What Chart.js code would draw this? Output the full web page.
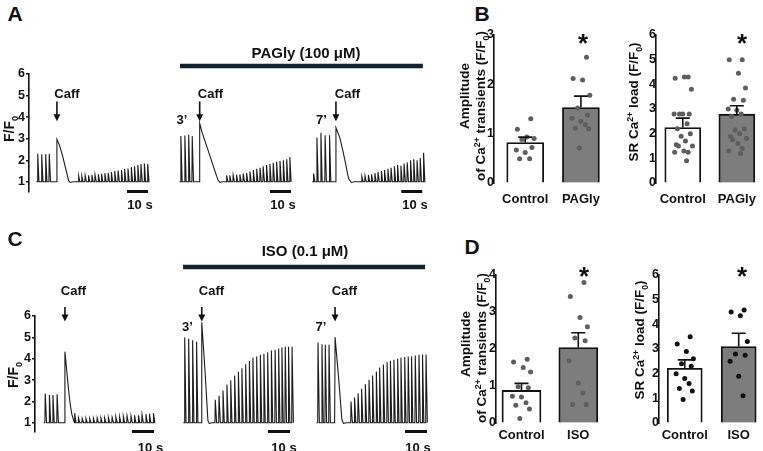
<!DOCTYPE html>
<html>
<head>
<meta charset="utf-8">
<script src="https://cdn.jsdelivr.net/npm/chart.js@4.4.1/dist/chart.umd.min.js"></script>
<style>
body { margin: 0; background: #fff; }
#fig { position: relative; width: 763px; height: 451px; overflow: hidden; font-family: "Liberation Sans", Arial, sans-serif; font-weight: bold; color: #111; }
#fig canvas { position: absolute; }
.t { position: absolute; white-space: nowrap; transform: translate(-50%, -50%); line-height: 1; }
.rot { transform: translate(-50%, -50%) rotate(-90deg); }
sub, sup { font-size: 0.65em; line-height: 0; }
</style>
</head>
<body>
<div id="fig">
  <canvas id="rowA" width="432" height="140" style="left:0px;top:60px"></canvas>
  <canvas id="rowC" width="432" height="200" style="left:0px;top:240px"></canvas>
  <canvas id="b1" width="175" height="195" style="left:440px;top:25px"></canvas>
  <canvas id="b2" width="153" height="195" style="left:610px;top:25px"></canvas>
  <canvas id="d1" width="175" height="195" style="left:440px;top:265px"></canvas>
  <canvas id="d2" width="153" height="195" style="left:610px;top:265px"></canvas>
</div>
<script>
// ---- traces (time in s, peak in F/F0) ----
const a1Beats = [4.0, 5.9, 7.8, 9.5, 23.5, 25.0, 26.6, 28.2, 29.8, 31.3, 32.9, 34.4, 36.0, 37.6, 39.1, 40.7, 42.3, 43.9, 45.4, 47.0, 48.6, 50.1, 51.7, 53.2, 54.8, 56.4];
const a1Peaks = [2.3, 2.28, 2.28, 2.3, 1.28, 1.28, 1.3, 1.3, 1.32, 1.33, 1.35, 1.37, 1.4, 1.42, 1.45, 1.5, 1.52, 1.55, 1.6, 1.62, 1.68, 1.72, 1.78, 1.82, 1.85, 1.83];
const a1Caff = [[13.1, 1], [13.3, 2.97], [14.5, 2.7], [16, 2.2], [17.5, 1.6], [18.9, 1.05], [19.6, 0.97], [21, 1]];

const a2Beats = [72.2, 74.1, 75.9, 77.6, 94.0, 95.5, 97.1, 98.7, 100.3, 101.9, 103.5, 105.1, 106.7, 108.3, 109.9, 111.4, 113.0, 114.6, 116.2, 117.8, 119.4, 121.0, 122.6, 124.1];
const a2Peaks = [3.12, 3.15, 3.18, 3.12, 1.3, 1.3, 1.32, 1.33, 1.35, 1.38, 1.41, 1.48, 1.55, 1.6, 1.65, 1.72, 1.78, 1.84, 1.88, 1.93, 1.97, 2.0, 2.05, 2.15];
const a2Caff = [[81.1, 1], [81.3, 3.71], [82.4, 3.3], [84.5, 2.69], [86.5, 2.11], [88.5, 1.52], [90, 1.08], [91, 0.97], [92, 1]];

const a3Beats = [135.4, 137.0, 138.9, 140.9, 143.0, 158.4, 159.9, 161.5, 163.0, 164.6, 166.1, 167.7, 169.2, 170.8, 172.3, 173.9, 175.4, 177.0, 178.5, 180.0, 181.6, 183.1, 184.7, 186.2, 187.8];
const a3Peaks = [1.38, 3.05, 3.28, 3.16, 3.16, 1.25, 1.28, 1.32, 1.35, 1.4, 1.45, 1.5, 1.55, 1.6, 1.65, 1.72, 1.78, 1.75, 1.85, 1.9, 2.0, 2.05, 2.0, 2.1, 2.35];
const a3Caff = [[146, 1], [146.2, 3.51], [148, 3.06], [149.5, 2.45], [151.1, 1.69], [152.2, 1.15], [153.5, 0.97], [155, 1]];

const c1Beats = [4.5, 6.4, 8.0, 9.9, 17.9, 19.6, 21.3, 23.0, 24.7, 26.4, 28.1, 29.8, 31.5, 33.2, 34.9, 36.6, 38.3, 40.0, 41.7, 43.5, 45.1, 46.9, 48.5, 50.3, 51.9, 53.7];
const c1Peaks = [2.37, 2.3, 2.3, 2.33, 1.45, 1.22, 1.2, 1.2, 1.2, 1.2, 1.22, 1.22, 1.22, 1.25, 1.25, 1.27, 1.28, 1.3, 1.32, 1.32, 1.35, 1.35, 1.38, 1.4, 1.42, 1.45];
const c1Caff = [[13.4, 1], [13.6, 4.33], [14.4, 3.47], [15.1, 2.71], [15.9, 1.95], [16.7, 1.42], [17.6, 1.1]];

const c2Beats = [67.9, 69.7, 71.5, 73.3, 81.8, 83.5, 85.3, 87.1, 88.8, 90.6, 92.3, 93.9, 95.6, 97.3, 98.9, 100.6, 102.3, 103.9, 105.6, 107.3, 109.0, 110.6, 112.1, 113.6, 115.1, 116.7];
const c2Peaks = [4.99, 4.94, 4.86, 4.79, 2.08, 2.26, 2.51, 2.79, 2.99, 3.21, 3.39, 3.55, 3.74, 3.89, 4.05, 4.10, 4.19, 4.23, 4.30, 4.38, 4.42, 4.48, 4.53, 4.56, 4.56, 4.56];
const c2Caff = [[75.6, 1], [75.8, 5.71], [77.3, 3.4], [78.6, 1.1], [79.2, 0.97], [80.5, 1]];

const c3Beats = [128.5, 130.3, 131.8, 133.5, 143.5, 145.1, 146.7, 148.3, 150.0, 151.7, 153.3, 155.0, 156.5, 158.2, 159.9, 161.4, 163.0, 164.7, 166.2, 167.9, 169.5, 171.0, 172.7, 174.4, 176.0, 177.6];
const c3Peaks = [4.76, 4.68, 4.65, 4.65, 1.99, 2.18, 2.38, 2.59, 2.80, 3.01, 3.21, 3.40, 3.59, 3.73, 3.83, 3.90, 3.95, 4.00, 4.05, 4.08, 4.10, 4.12, 4.15, 4.18, 4.20, 4.20];
const c3Caff = [[136.2, 1], [136.4, 5.01], [138, 3.1], [139.5, 1.15], [140.2, 0.97], [141.5, 1]];

const yTicksTrace = [1, 2, 3, 4, 5, 6];

// ---- bar panels ----
const catsB = ['Control', 'PAGly'];
const catsD = ['Control', 'ISO'];

const b1Mean = [0.82, 1.53], b1Sem = [0.11, 0.23];
const b1Ctl = [1.3, 1.09, 0.93, 0.9, 0.88, 0.72, 0.67, 0.62, 0.49, 0.49];
const b1Pag = [2.55, 2.12, 2.09, 1.78, 1.52, 1.38, 1.31, 1.25, 1.18, 1.11, 1.1, 0.71];

const b2Mean = [2.25, 2.79], b2Sem = [0.38, 0.34];
const b2Ctl = [4.3, 4.25, 4.3, 3.8, 2.8, 2.8, 2.8, 2.8, 2.4, 2.2, 2.0, 1.9, 1.7, 1.55, 1.5, 1.5, 1.3, 1.25, 1.25, 0.9];
const b2Pag = [5.0, 5.0, 4.45, 3.85, 3.4, 3.35, 3.0, 2.95, 2.8, 2.7, 2.2, 2.15, 2.0, 1.9, 1.8, 1.75, 1.6, 1.4, 1.3, 1.2];

const d1Mean = [0.88, 2.04], d1Sem = [0.19, 0.40];
const d1Ctl = [1.72, 1.65, 1.5, 1.38, 0.98, 0.95, 0.72, 0.7, 0.55, 0.48, 0.38, 0.12];
const d1Iso = [3.8, 3.42, 2.85, 2.6, 2.3, 2.22, 1.68, 1.08, 0.81, 0.5, 0.5];

const d2Mean = [2.22, 3.10], d2Sem = [0.34, 0.54];
const d2Ctl = [3.5, 3.2, 2.9, 2.6, 2.4, 2.3, 2.0, 1.8, 1.6, 1.4, 1.3, 0.95];
const d2Iso = [4.58, 4.5, 4.35, 3.3, 2.8, 2.75, 2.5, 1.9, 1.1];

Chart.defaults.font.family = '"Liberation Sans", Arial, sans-serif';
Chart.defaults.font.weight = 'bold';
Chart.defaults.color = '#111';
Chart.defaults.animation = false;

const fig = document.getElementById('fig');

function wave(times, peaks, caff) {
   const pts = [{ x: times[0] - 0.5, y: 1 }];
   times.forEach((t, i) => pts.push({ x: t, y: 1 }, { x: t + 0.15, y: peaks[i] }, { x: t + 0.75, y: 1 }));
   caff.forEach(c => pts.push({ x: c[0], y: c[1] }));
   pts.push({ x: times[times.length - 1] + 1, y: 1 });
   return pts.sort((a, b) => a.x - b.x);
}

function joinTraces(list) {
   let out = [];
   list.forEach((w, k) => {
      if (k) out.push({ x: w[0].x - 1, y: null });
      out = out.concat(w);
   });
   return out;
}

// arrows, 10 s bars, drug bar
const marks = {
   id: 'marks',
   afterDatasetsDraw(chart, args, o) {
      const { ctx, chartArea: a, scales: { x, y } } = chart;
      ctx.save();
      ctx.fillStyle = '#111';
      ctx.strokeStyle = '#111';
      o.caff.forEach(t => {
         const px = x.getPixelForValue(t);
         const y0 = y.getPixelForValue(o.arrow[0]), y1 = y.getPixelForValue(o.arrow[1]);
         ctx.lineWidth = 1.6;
         ctx.beginPath(); ctx.moveTo(px, y0); ctx.lineTo(px, y1 - 6); ctx.stroke();
         ctx.beginPath(); ctx.moveTo(px - 3.5, y1 - 7); ctx.lineTo(px + 3.5, y1 - 7); ctx.lineTo(px, y1); ctx.closePath(); ctx.fill();
      });
      ctx.lineWidth = 3;
      o.scale.forEach(s => {
         ctx.beginPath();
         ctx.moveTo(x.getPixelForValue(s), a.bottom);
         ctx.lineTo(x.getPixelForValue(s + 10), a.bottom);
         ctx.stroke();
      });
      ctx.strokeStyle = '#10222e';
      ctx.lineWidth = 4.5;
      ctx.beginPath();
      ctx.moveTo(x.getPixelForValue(o.drug[0]), a.top - o.drugGap);
      ctx.lineTo(x.getPixelForValue(o.drug[1]), a.top - o.drugGap);
      ctx.stroke();
      ctx.restore();
   }
};

function traceRow(id, data, yw, xmax, yMin, pad, opts) {
   new Chart(document.getElementById(id), {
      type: 'line',
      data: { datasets: [{ data: data, borderColor: '#1c1c1c', borderWidth: 1.1, pointRadius: 0, tension: 0, spanGaps: false }] },
      options: {
         responsive: false,
         events: [],
         layout: { padding: pad },
         plugins: { legend: { display: false }, tooltip: { enabled: false }, marks: opts },
         scales: {
            x: { type: 'linear', min: 0, max: xmax, display: false },
            y: {
               min: yMin, max: 6,
               afterFit: s => { s.width = yw; },
               afterBuildTicks: s => { s.ticks = yTicksTrace.map(v => ({ value: v })); },
               grid: { drawOnChartArea: false, tickLength: 3, color: '#111', lineWidth: 1.4 },
               border: { color: '#111', width: 1.6 },
               ticks: { font: { size: 12.5 }, padding: 1, color: '#111' }
            }
         }
      },
      plugins: [marks]
   });
}

traceRow('rowA', joinTraces([wave(a1Beats, a1Peaks, a1Caff), wave(a2Beats, a2Peaks, a2Caff), wave(a3Beats, a3Peaks, a3Caff)]),
   29, 191, 0.55, { top: 14, bottom: 7, left: 0, right: 2 },
   { caff: [a1Caff[1][0], a2Caff[1][0], a3Caff[1][0]], arrow: [4.73, 3.81], scale: [46.7, 114.8, 177.3], drug: [71.9, 187.6], drugGap: 8 });

traceRow('rowC', joinTraces([wave(c1Beats, c1Peaks, c1Caff), wave(c2Beats, c2Peaks, c2Caff), wave(c3Beats, c3Peaks, c3Caff)]),
   35, 180, 0.59, { top: 76, bottom: 5, left: 0, right: 1 },
   { caff: [c1Caff[1][0], c2Caff[1][0], c3Caff[1][0]], arrow: [6.42, 5.74], scale: [44.1, 105.9, 168.2], drug: [67.3, 177.3], drugGap: 49 });

// error bars (mean + SEM)
const errBars = {
   id: 'errBars',
   afterDatasetsDraw(chart, args, o) {
      const { ctx, scales: { x, y } } = chart;
      ctx.save();
      ctx.strokeStyle = '#111';
      ctx.lineWidth = 1.6;
      o.mean.forEach((m, i) => {
         const px = x.getPixelForValue(i), top = y.getPixelForValue(m + o.sem[i]);
         ctx.beginPath();
         ctx.moveTo(px, y.getPixelForValue(m)); ctx.lineTo(px, top);
         ctx.moveTo(px - 7, top); ctx.lineTo(px + 7, top);
         ctx.stroke();
      });
      ctx.restore();
   }
};

const JIT = [0.1, -0.14, 0.03, 0.16, -0.06, 0.12, -0.16, 0.0, 0.08, -0.1, 0.14, -0.03, 0.05, -0.12, 0.18, -0.08, 0.02, 0.1, -0.15, 0.07];
const dots = (vals, g) => vals.map((v, i) => ({ x: g + JIT[i % JIT.length], y: v }));

function barPanel(id, cats, mean, sem, g0, g1, yMax, yw, xmin, xmax, thick, xpad, dotColor) {
   new Chart(document.getElementById(id), {
      type: 'bar',
      data: {
         datasets: [
            { type: 'bar', data: mean.map((m, i) => ({ x: i, y: m })), backgroundColor: ['#ffffff', '#7d7d7d'], borderColor: '#111', borderWidth: 1.8, barThickness: thick, order: 2 },
            { type: 'scatter', data: dots(g0, 0).concat(dots(g1, 1)), pointRadius: 2.5, pointBackgroundColor: dotColor, pointBorderWidth: 0, order: 1 }
         ]
      },
      options: {
         responsive: false,
         events: [],
         layout: { padding: { top: 10, bottom: 7, left: 0, right: 3 } },
         plugins: { legend: { display: false }, tooltip: { enabled: false }, errBars: { mean: mean, sem: sem } },
         scales: {
            x: {
               type: 'linear', min: xmin, max: xmax, offset: false,
               afterFit: s => { s.height = 30; s.paddingLeft = 0; s.paddingRight = 0; },
               afterBuildTicks: s => { s.ticks = cats.map((c, i) => ({ value: i })); },
               grid: { display: false }, border: { display: false },
               ticks: { callback: v => cats[v], font: { size: 13 }, padding: xpad, color: '#111', maxRotation: 0, autoSkip: false }
            },
            y: {
               min: 0, max: yMax,
               afterFit: s => { s.width = yw; },
               ticks: { stepSize: 1, font: { size: 12.5 }, padding: 0, color: '#111' },
               grid: { drawOnChartArea: false, drawTicks: false },
               border: { color: '#111', width: 1.6 }
            }
         }
      },
      plugins: [errBars]
   });
}

barPanel('b1', catsB, b1Mean, b1Sem, b1Ctl, b1Pag, 3, 54, -0.56, 1.54, 37, 1, '#5e5e5e');
barPanel('b2', catsB, b2Mean, b2Sem, b2Ctl, b2Pag, 6, 46, -0.495, 1.41, 36, 1, '#5e5e5e');
barPanel('d1', catsD, d1Mean, d1Sem, d1Ctl, d1Iso, 4, 56, -0.449, 1.576, 39, -3, '#5e5e5e');
barPanel('d2', catsD, d2Mean, d2Sem, d2Ctl, d2Iso, 6, 49, -0.477, 1.376, 35, -3, '#111111');

// text labels
function txt(html, x, y, size, cls) {
   const d = document.createElement('div');
   d.className = 't' + (cls ? ' ' + cls : '');
   d.style.left = x + 'px';
   d.style.top = y + 'px';
   d.style.fontSize = size + 'px';
   d.innerHTML = html;
   fig.appendChild(d);
}

[
   ['A', 15, 12.5, 21], ['B', 482, 12.5, 21], ['C', 15, 237.5, 21], ['D', 472, 245.5, 21],
   ['PAGly (100 μM)', 306, 52, 15], ['Caff', 67, 93, 13], ['Caff', 210.5, 93, 13], ['Caff', 347.5, 93, 13],
   ['3’', 182, 118.5, 13], ['7’', 321.5, 118.5, 13],
   ['10 s', 140, 204, 13], ['10 s', 283, 204, 13], ['10 s', 415, 204, 13],
   ['F/F<sub>0</sub>', 9, 129, 14, 'rot'],
   ['ISO (0.1 μM)', 305, 250, 15], ['Caff', 73.5, 290, 13], ['Caff', 211.5, 290, 13], ['Caff', 344.5, 290, 13],
   ['3’', 187.5, 326, 13], ['7’', 321, 326, 13],
   ['10 s', 150.5, 447, 13], ['10 s', 284, 447, 13], ['10 s', 418, 447, 13],
   ['F/F<sub>0</sub>', 13, 375, 14, 'rot'],
   ['Amplitude', 465, 96, 13.5, 'rot'], ['of Ca<sup>2+</sup> transients (F/F<sub>0</sub>)', 481, 106, 13.5, 'rot'],
   ['SR Ca<sup>2+</sup> load (F/F<sub>0</sub>)', 634, 102, 13.5, 'rot'],
   ['Amplitude', 466, 344, 13.5, 'rot'], ['of Ca<sup>2+</sup> transients (F/F<sub>0</sub>)', 482, 348, 13.5, 'rot'],
   ['SR Ca<sup>2+</sup> load (F/F<sub>0</sub>)', 640, 340, 13.5, 'rot'],
   ['*', 583, 42.5, 26], ['*', 742, 42.5, 26], ['*', 584, 275.5, 26], ['*', 742, 275.5, 26]
].forEach(t => txt(t[0], t[1], t[2], t[3], t[4]));
</script>
</body>
</html>
